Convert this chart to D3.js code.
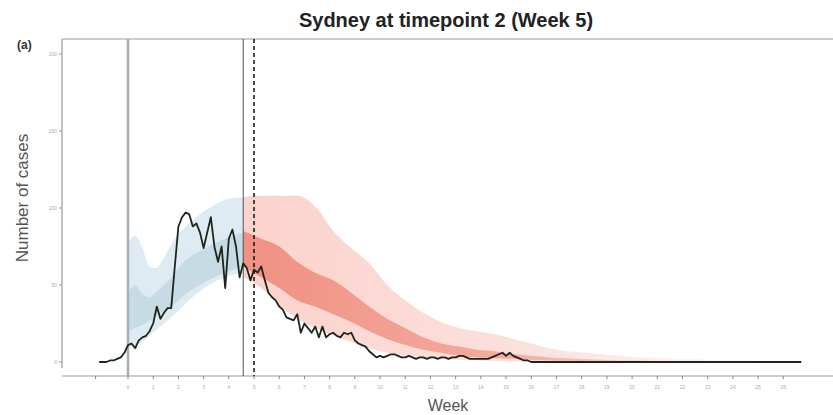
<!DOCTYPE html>
<html>
<head>
<meta charset="utf-8">
<script src="https://cdn.jsdelivr.net/npm/d3@7"></script>
<style>
  body { margin: 0; background: #fff; }
  svg { display: block; font-family: "Liberation Sans", Arial, sans-serif; }
</style>
</head>
<body>
<div id="chart"></div>
<script>
// observed daily cases, first value is day -8 (day 0 = start of fitting window)
const caseStartDay = -8;
const cases = [
  0,0,0,1,1,2,3,6,
  11,12,9,14,16,17,20,25,36,28,
  32,35,35,62,88,94,97,96,88,90,
  84,74,84,94,75,65,75,48,80,86,
  75,55,64,61,53,60,58,62,53,45,
  42,40,36,34,29,28,27,31,19,25,
  22,19,23,16,23,16,18,19,17,16,
  19,18,19,14,12,11,10,7,5,3,
  4,3,4,5,5,4,3,3,4,3,
  2,3,3,2,3,3,2,3,3,2,
  3,3,4,4,3,2,2,2,2,2,
  2,3,4,5,6,4,6,4,3,2,
  1,1,0,
  0,0,0,0,0,0,0,0,0,0,0,0,0,0,0,
  0,0,0,0,0,0,0,0,0,0,0,0,0,0,0,
  0,0,0,0,0,0,0,0,0,0,0,0,0,0,0,
  0,0,0,0,0,0,0,0,0,0,0,0,0,0,0,
  0,0,0,0,0,0,0,0,0,0,0,0,0,0,0
];

// model fit over the fitting window (blue)
const fitDays     = [0, 2, 4, 6, 8, 10, 13, 16, 20, 24, 28, 32];
const fitOuterHi  = [78, 82, 74, 62, 61, 68, 80, 88, 96, 102, 106, 107];
const fitOuterLo  = [10, 11, 13, 17, 21, 25, 31, 38, 46, 52, 56, 58];
const fitInnerHi  = [45, 50, 44, 42, 46, 50, 58, 66, 72, 77, 81, 84];
const fitInnerLo  = [20, 22, 24, 27, 30, 33, 38, 44, 50, 55, 59, 62];

// forecast after timepoint (red)
const fcDays    = [32,37,42,47,52,57,62,67,72,77,82,87,92,97,102,107,112,117,122,127,132,137,142,147,152,157,162,167,172,177,182];
const fcOuterHi = [107,108,108,108,101,85,74,64,50,40,32,26,22,20,18,15,12,9,7,6,5,4,3,3,2,2,1,1,1,0.5,0.3];
const fcOuterLo = [55,48,37,28,22,17,13,9,6,4,3,2,1.5,1,0.7,0.5,0.3,0.2,0.1,0,0,0,0,0,0,0,0,0,0,0,0];
const fcInnerHi = [85,80,75,65,58,53,45,36,28,22,16,12,10,8,7,5,4,3,2.5,2,1.5,1,1,0.7,0.5,0.4,0.3,0.2,0.1,0.1,0];
const fcInnerLo = [62,55,48,40,36,31,26,20,15,11,8,6,4,3,2.5,2,1.5,1,0.8,0.6,0.4,0.3,0.2,0.1,0,0,0,0,0,0,0];

const weekLabels = ["0","1","2","3","4","5","6","7","8","9","10","11","12","13","14","15","16","17","18","19","20","21","22","23","24","25","26"];
const yTicks = [0, 50, 100, 150, 200];
const fitStartDay = 0, timepointDay = 32, forecastDay = 35;

const W = 833, H = 415;
const mLeft = 62, mRight = 833, mTop = 39, mBottom = 376;

const svg = d3.select("#chart").append("svg").attr("width", W).attr("height", H);

const x = d3.scaleLinear().domain([-18.33, 195.8]).range([mLeft, mRight]);
const y = d3.scaleLinear().domain([-9.09, 209.7]).range([mBottom, mTop]);

const defs = svg.append("defs");
const fade = defs.append("linearGradient").attr("id", "fade")
  .attr("gradientUnits", "userSpaceOnUse")
  .attr("x1", x(32)).attr("x2", x(182)).attr("y1", 0).attr("y2", 0);
fade.append("stop").attr("offset", 0).attr("stop-color", "#ef8d7e").attr("stop-opacity", 0.95);
fade.append("stop").attr("offset", 0.5).attr("stop-color", "#f29a8c").attr("stop-opacity", 0.75);
fade.append("stop").attr("offset", 1).attr("stop-color", "#f7c2ba").attr("stop-opacity", 0.25);
const fadeOut = defs.append("linearGradient").attr("id", "fadeOut")
  .attr("gradientUnits", "userSpaceOnUse")
  .attr("x1", x(32)).attr("x2", x(182)).attr("y1", 0).attr("y2", 0);
fadeOut.append("stop").attr("offset", 0).attr("stop-color", "#fbd2cc").attr("stop-opacity", 1);
fadeOut.append("stop").attr("offset", 0.5).attr("stop-color", "#fbd8d3").attr("stop-opacity", 0.8);
fadeOut.append("stop").attr("offset", 1).attr("stop-color", "#fde6e3").attr("stop-opacity", 0.3);

function band(days, lo, hi) {
  return d3.area()
    .x((d, i) => x(days[i]))
    .y0((d, i) => y(lo[i]))
    .y1((d, i) => y(hi[i]))
    .curve(d3.curveMonotoneX)(days);
}

// blue fit bands
svg.append("path").attr("d", band(fitDays, fitOuterLo, fitOuterHi)).attr("fill", "#dfebf2");
svg.append("path").attr("d", band(fitDays, fitInnerLo, fitInnerHi)).attr("fill", "#c6dbe4");

// red forecast bands
svg.append("path").attr("d", band(fcDays, fcOuterLo, fcOuterHi)).attr("fill", "url(#fadeOut)");
svg.append("path").attr("d", band(fcDays, fcInnerLo, fcInnerHi)).attr("fill", "url(#fade)");

// frame
svg.append("line").attr("x1", mLeft).attr("x2", mLeft).attr("y1", mTop).attr("y2", mBottom - 8)
  .attr("stroke", "#9a9a9a").attr("stroke-width", 1.2);
svg.append("line").attr("x1", mLeft).attr("x2", mRight).attr("y1", mTop).attr("y2", mTop)
  .attr("stroke", "#9a9a9a").attr("stroke-width", 1.2);

// x axis
const xAxis = svg.append("g");
xAxis.append("line").attr("x1", mLeft).attr("x2", mRight).attr("y1", mBottom).attr("y2", mBottom)
  .attr("stroke", "#9a9a9a").attr("stroke-width", 1.2);
xAxis.append("line").attr("x1", x(-9)).attr("x2", x(-9)).attr("y1", mBottom).attr("y2", mBottom + 3)
  .attr("stroke", "#888");
weekLabels.forEach((lab, i) => {
  const px = x(i * 7);
  xAxis.append("line").attr("x1", px).attr("x2", px).attr("y1", mBottom).attr("y2", mBottom + 3)
    .attr("stroke", "#888");
  xAxis.append("text").attr("x", px).attr("y", mBottom + 13)
    .attr("text-anchor", "middle").attr("font-size", 5).attr("fill", "#aaa").text(lab);
});

// y axis
yTicks.forEach(t => {
  svg.append("line").attr("x1", mLeft - 3).attr("x2", mLeft).attr("y1", y(t)).attr("y2", y(t))
    .attr("stroke", "#999");
  svg.append("text").attr("x", mLeft - 5).attr("y", y(t) + 2).attr("text-anchor", "end")
    .attr("font-size", 5).attr("fill", "#aaa").text(t);
});

// vertical markers
svg.append("line").attr("x1", x(fitStartDay)).attr("x2", x(fitStartDay)).attr("y1", mTop).attr("y2", mBottom)
  .attr("stroke", "#a4afb8").attr("stroke-width", 2.5);
svg.append("line").attr("x1", x(timepointDay)).attr("x2", x(timepointDay)).attr("y1", mTop).attr("y2", mBottom)
  .attr("stroke", "#4a5258").attr("stroke-width", 1);
svg.append("line").attr("x1", x(forecastDay)).attr("x2", x(forecastDay)).attr("y1", mTop).attr("y2", mBottom)
  .attr("stroke", "#111").attr("stroke-width", 1.5).attr("stroke-dasharray", "4,3");

// observed cases
const line = d3.line().x((d, i) => x(caseStartDay + i)).y(d => y(d));
svg.append("path").attr("d", line(cases)).attr("fill", "none")
  .attr("stroke", "#1d261d").attr("stroke-width", 1.8).attr("stroke-linejoin", "round");

// text
svg.append("text").attr("x", 446).attr("y", 27).attr("text-anchor", "middle")
  .attr("font-size", 20).attr("font-weight", "bold").attr("fill", "#222")
  .text("Sydney at timepoint 2 (Week 5)");
svg.append("text").attr("x", 17).attr("y", 49).attr("font-size", 12).attr("font-weight", "bold")
  .attr("fill", "#333").text("(a)");
svg.append("text").attr("transform", "translate(28,198) rotate(-90)").attr("text-anchor", "middle")
  .attr("font-size", 17).attr("fill", "#555").text("Number of cases");
svg.append("text").attr("x", 448).attr("y", 411).attr("text-anchor", "middle")
  .attr("font-size", 16).attr("fill", "#555").text("Week");
</script>
</body>
</html>
